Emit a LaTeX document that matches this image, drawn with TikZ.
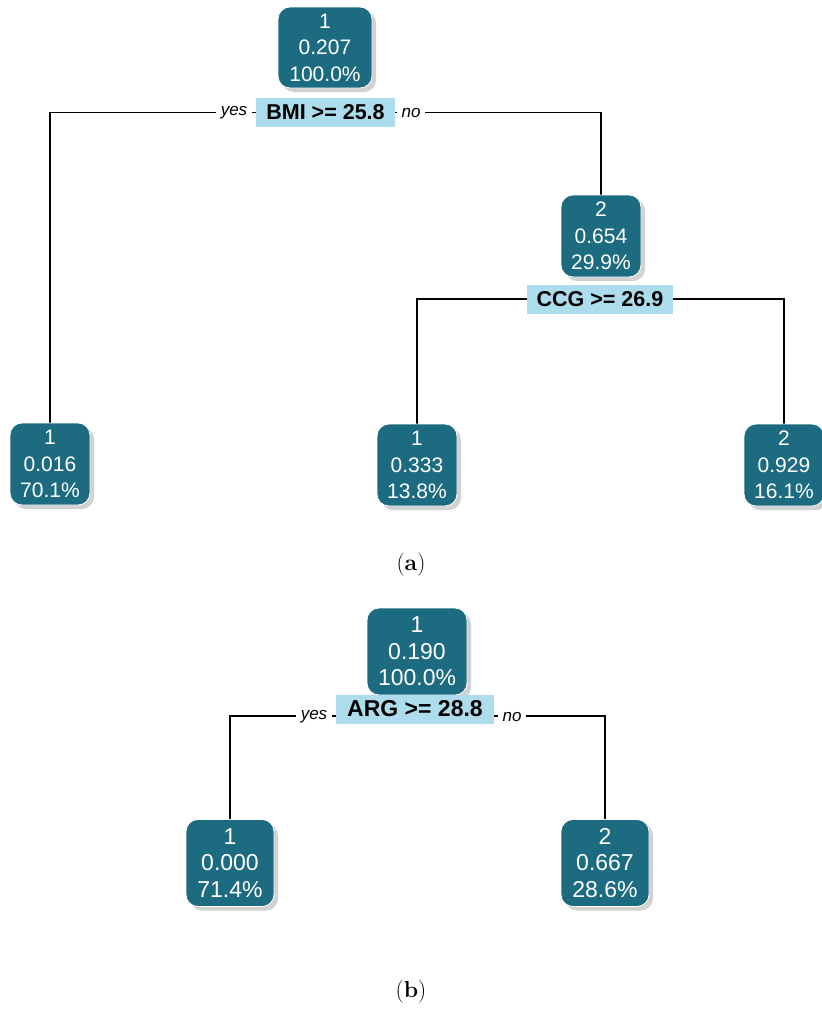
\documentclass[tikz,border=0pt]{standalone}
\usepackage{fontspec}
\newfontfamily\sansfont{Liberation Sans}
\usetikzlibrary{shadows,backgrounds}
\definecolor{nodeteal}{HTML}{1C6B81}
\definecolor{splitblue}{HTML}{ADDCEC}
\tikzset{
  treenode/.style={rectangle, rounded corners=12pt, fill=nodeteal, draw=white,
    line width=0.8pt, text=white, align=center, inner xsep=9pt, inner ysep=0pt,
    minimum width=80pt, minimum height=82pt,
    font=\sansfont\fontsize{21}{26.5}\selectfont,
    drop shadow={shadow xshift=4pt, shadow yshift=-4pt, fill=black!25, opacity=0.7}},
  bignode/.style={treenode, minimum width=88pt, minimum height=87pt,
    font=\sansfont\fontsize{23}{26.5}\selectfont},
  splitlabel/.style={rectangle, fill=splitblue, inner xsep=10pt, inner ysep=0pt,
    minimum height=29pt, font=\sansfont\bfseries\fontsize{21.5}{24}\selectfont},
  bigsplit/.style={splitlabel, inner xsep=11pt, font=\sansfont\bfseries\fontsize{23}{26}\selectfont},
  dirlabel/.style={fill=white, inner xsep=5pt, inner ysep=1pt,
    font=\sansfont\itshape\fontsize{17}{20}\selectfont},
  edge/.style={line width=1.4pt, black},
  caption/.style={font=\fontsize{23}{27}\selectfont}
}
\begin{document}
\begin{tikzpicture}[x=1pt, y=-1pt]
  \useasboundingbox (0,0) rectangle (822,1018);
  \begin{scope}[on background layer]
    \fill[white] (0,0) rectangle (822,1018);
  \end{scope}

  % ---- tree (a) ----
  \node[treenode, minimum width=94pt, minimum height=81pt] (rA) at (325,47.5) {1\\0.207\\100.0\%};
  \node[splitlabel] (sA) at (325.5,112.5) {BMI >= 25.8};
  \node[treenode] (lA) at (50,464) {1\\0.016\\70.1\%};
  \node[treenode] (nA) at (601,236) {2\\0.654\\29.9\%};
  \node[splitlabel] (sC) at (600,299) {CCG >= 26.9};
  \node[treenode] (mA) at (417,465) {1\\0.333\\13.8\%};
  \node[treenode] (qA) at (784,465) {2\\0.929\\16.1\%};
  \node[dirlabel] (yA) at (234,113) {yes};
  \node[dirlabel] (oA) at (411,113) {no};
  \node[caption] (capA) at (411,565) {(\textbf{a})};

  % ---- tree (b) ----
  \node[bignode, minimum width=100pt, minimum height=87pt] (rB) at (417,651.5) {1\\0.190\\100.0\%};
  \coordinate (jB) at (417,716);
  \node[bigsplit] (sB) at (415,709) {ARG >= 28.8};
  \node[bignode] (lB) at (230,863) {1\\0.000\\71.4\%};
  \node[bignode] (pB) at (605,863) {2\\0.667\\28.6\%};
  \node[dirlabel] (yB) at (314,717) {yes};
  \node[dirlabel] (oB) at (512,717) {no};
  \node[caption] (capB) at (411,992) {(\textbf{b})};

  % ---- connectors ----
  \begin{scope}[on background layer]
    \draw[edge] (lA.north) |- (sA.center) -| (nA.north);
    \draw[edge] (mA.north) |- (sC.center) -| (qA.north);
    \draw[edge] (lB.north) |- (jB) -| (pB.north);
  \end{scope}
\end{tikzpicture}
\end{document}
